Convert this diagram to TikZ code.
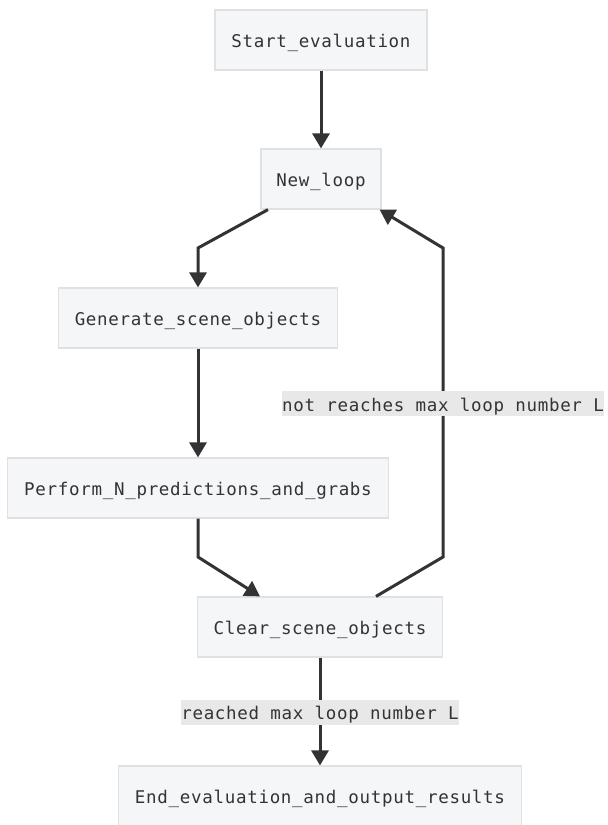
\documentclass[tikz,border=0pt]{standalone}
\usepackage{fontspec}
\newfontfamily\diagfont[LetterSpace=4]{DejaVu Sans Mono}
\usetikzlibrary{arrows.meta}
\definecolor{boxfill}{HTML}{F5F6F8}
\definecolor{boxline}{HTML}{DFE1E5}
\definecolor{ink}{HTML}{333333}
\definecolor{labelbg}{HTML}{E8E8E8}
\tikzset{
  txt/.style={font=\diagfont\fontsize{17.5}{20}\selectfont, text=ink,
    text height=15pt, text depth=0pt},
  stepbox/.style={txt, draw=boxline, line width=1.2pt, fill=boxfill, inner sep=0pt,
    minimum height=60pt},
  arr/.style={draw=ink, line width=3pt, -{Triangle[length=15pt,width=17pt]}},
  edgelabel/.style={txt, fill=labelbg, inner xsep=0pt, inner ysep=5pt}
}
\begin{document}
\begin{tikzpicture}[x=1pt,y=-1pt]
  \useasboundingbox (0,0) rectangle (608,825);
  \clip (0,0) rectangle (608,825);
  \fill[white] (0,0) rectangle (608,825);

  % process steps
  \node[stepbox, minimum width=212pt] (start)   at (321,40)  {Start\_evaluation};
  \node[stepbox, minimum width=120pt] (newloop) at (321,179) {New\_loop};
  \node[stepbox, minimum width=279pt] (gen)     at (198,318) {Generate\_scene\_objects};
  \node[stepbox, minimum width=381pt] (perf)    at (198,488) {Perform\_N\_predictions\_and\_grabs};
  \node[stepbox, minimum width=245pt] (clear)   at (320,627) {Clear\_scene\_objects};
  \node[stepbox, minimum width=403pt] (finish)  at (320,796) {End\_evaluation\_and\_output\_results};

  % bend points of the routed connectors
  \coordinate (b1) at (198,248);
  \coordinate (b2) at (198,557);
  \coordinate (b3) at (443,557);
  \coordinate (b4) at (443,248);

  % connectors
  \draw[arr] (start) -- (newloop);
  \draw[arr, line join=miter] ([xshift=-53pt]newloop.south) -- (b1) -- (gen.north);
  \draw[arr] (gen) -- (perf);
  \draw[arr, line join=miter] (perf.south) -- (b2) -- ([xshift=-60pt]clear.north);
  \draw[arr, line join=miter] ([xshift=56pt]clear.north) -- (b3) -- (b4)
    -- ([xshift=-2pt]newloop.south east);
  \draw[arr] (clear) -- (finish);

  % connector labels
  \node[edgelabel] (lblloop) at (443,403.5) {not reaches max loop number L};
  \node[edgelabel] (lblend)  at (320,712) {reached max loop number L};
\end{tikzpicture}
\end{document}
